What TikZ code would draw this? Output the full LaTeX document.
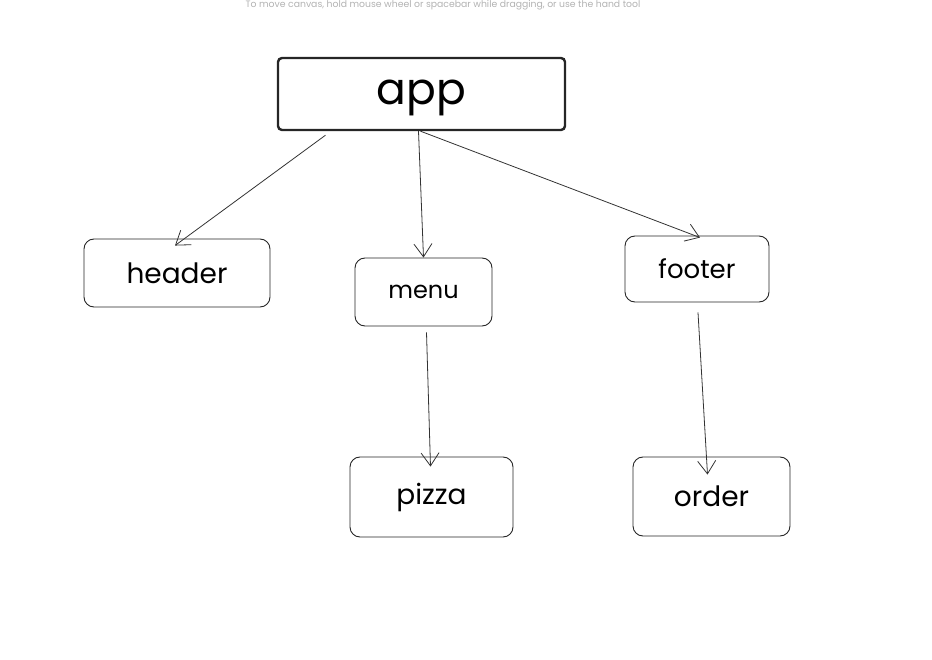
\documentclass[tikz,border=0pt]{standalone}
\usepackage{fontspec}
\setmainfont{Poppins}
\usetikzlibrary{arrows.meta,calc}
\begin{document}
\begin{tikzpicture}[x=1pt,y=-1pt,
	box/.style={draw=black!85, line width=0.9pt, rounded corners=10pt, inner sep=0pt},
	link/.style={draw=black!80, line width=0.8pt, -{Straight Barb[length=13pt,width=18pt]}}]
	\useasboundingbox (0,0) rectangle (932,660);
	\node[text=black!30, font=\fontsize{9.3}{10}\selectfont, anchor=north, inner sep=0.5pt] (hint) at (443,0) {To move canvas, hold mouse wheel or spacebar while dragging, or use the hand tool};
	\node[box, line width=2.4pt, rounded corners=4pt, minimum width=287pt, minimum height=72pt, text height=32pt, text depth=10pt, font=\fontsize{44}{44}\selectfont] (app) at (421.5,94) {app};
	\node[box, minimum width=186pt, minimum height=68pt, font=\fontsize{28}{28}\selectfont] (header) at (177,273) {header};
	\node[box, minimum width=137pt, minimum height=68pt, font=\fontsize{24}{24}\selectfont] (menu) at (423.5,292) {menu};
	\node[box, minimum width=144pt, minimum height=66pt, font=\fontsize{26}{26}\selectfont] (footer) at (697,269) {footer};
	\node[box, minimum width=163pt, minimum height=80pt, font=\fontsize{28}{28}\selectfont] (pizza) at (431.5,497) {pizza};
	\node[box, minimum width=157pt, minimum height=79pt, font=\fontsize{28}{28}\selectfont] (order) at (711.5,496.5) {order};

	\draw[link] ($(app.south)+(-96,4)$) -- ($(header.north)+(-2,7)$);
	\draw[link] ($(app.south)+(-3,0)$) -- (menu.north);
	\draw[link] ($(app.south)+(-1,0)$) -- ($(footer.north)+(3,2)$);
	\draw[link] ($(menu.south)+(3,6)$) -- ($(pizza.north)+(-1,10)$);
	\draw[link] ($(footer.south)+(1,10)$) -- ($(order.north)+(-4,18)$);
\end{tikzpicture}
\end{document}
